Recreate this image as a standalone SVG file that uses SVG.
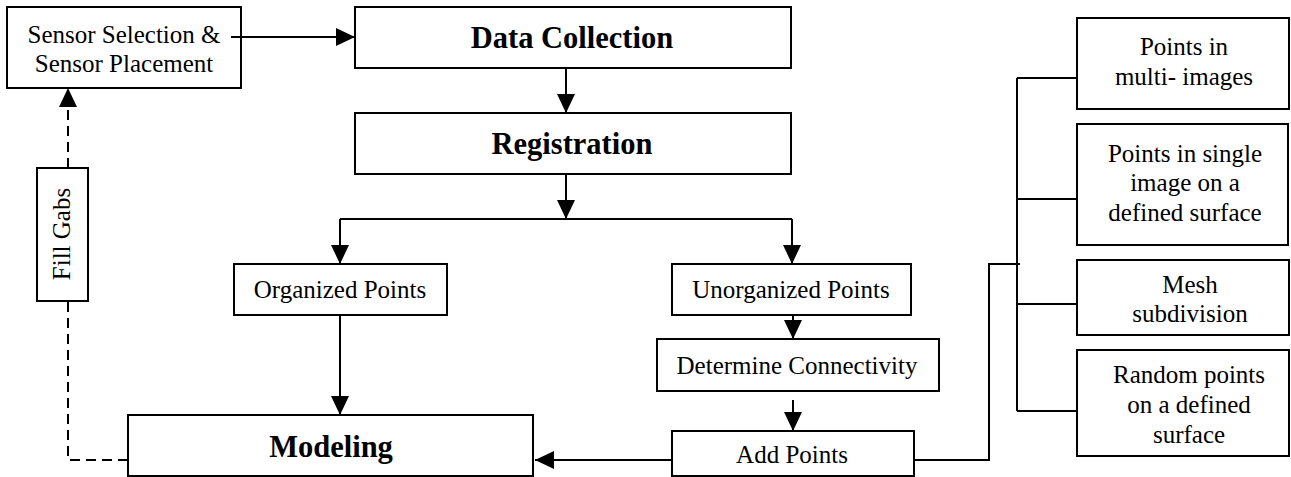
<svg xmlns="http://www.w3.org/2000/svg" width="1291" height="477" viewBox="0 0 1291 477">
<style>
.box{fill:#fff;stroke:#000;stroke-width:2}
.t{font-family:"Liberation Serif","Times New Roman",serif;font-size:25px;fill:#000;text-anchor:middle}
.b{font-family:"Liberation Serif","Times New Roman",serif;font-size:30.5px;font-weight:bold;fill:#000;text-anchor:middle}
.c{fill:none;stroke:#000;stroke-width:2}
.d{fill:none;stroke:#000;stroke-width:2;stroke-dasharray:10,6}
</style>
<defs>
<marker id="ah" markerUnits="userSpaceOnUse" markerWidth="20" markerHeight="20" refX="19" refY="9" orient="auto" viewBox="0 0 20 20">
<path d="M0,0 L19,9 L0,18 z" fill="#000"/>
</marker>
</defs>
<g id="sensor">
<rect class="box" x="7" y="7" width="234" height="81"/>
<text class="t" x="124" y="43">Sensor Selection &amp;</text>
<text class="t" x="124" y="72">Sensor Placement</text>
</g>
<g id="connectors">
<path class="c" d="M231,37 H355" marker-end="url(#ah)"/>
<path class="c" d="M566,68 V113" marker-end="url(#ah)"/>
<path class="c" d="M566,174 V219" marker-end="url(#ah)"/>
<path class="c" d="M340,219 H792"/>
<path class="c" d="M340,219 V264" marker-end="url(#ah)"/>
<path class="c" d="M792,219 V264" marker-end="url(#ah)"/>
<path class="c" d="M340,315 V415" marker-end="url(#ah)"/>
<path class="c" d="M793,315 V339" marker-end="url(#ah)"/>
<path class="c" d="M793,400 V431" marker-end="url(#ah)"/>
<path class="c" d="M672,460 H535" marker-end="url(#ah)"/>
<path class="d" d="M128,460 H68 V88" marker-end="url(#ah)"/>
<path class="c" d="M914,460 H989 V264 H1020"/>
<path class="c" d="M1017,78 V411"/>
<path class="c" d="M1017,78 H1077 M1017,199 H1077 M1017,304 H1077 M1017,411 H1077"/>
</g>
<g id="data-collection">
<rect class="box" x="355" y="7" width="436" height="61"/>
<text class="b" x="572" y="48">Data Collection</text>
</g>
<g id="registration">
<rect class="box" x="355" y="113" width="436" height="61"/>
<text class="b" x="572" y="154">Registration</text>
</g>
<g id="fill-gabs">
<rect class="box" x="37" y="168" width="51" height="133"/>
<text class="t" transform="translate(70,234) rotate(-90)" x="0" y="0">Fill Gabs</text>
</g>
<g id="organized-points">
<rect class="box" x="234" y="264" width="213" height="51"/>
<text class="t" x="340" y="298">Organized Points</text>
</g>
<g id="unorganized-points">
<rect class="box" x="672" y="264" width="239" height="51"/>
<text class="t" x="791" y="298">Unorganized Points</text>
</g>
<g id="determine-connectivity">
<rect class="box" x="657" y="339" width="282" height="52"/>
<text class="t" x="797" y="374">Determine Connectivity</text>
</g>
<g id="add-points">
<rect class="box" x="672" y="431" width="242" height="45"/>
<text class="t" x="792" y="463">Add Points</text>
</g>
<g id="modeling">
<rect class="box" x="128" y="415" width="405" height="61"/>
<text class="b" x="331" y="457">Modeling</text>
</g>
<g id="multi-images">
<rect class="box" x="1077" y="18" width="212" height="91"/>
<text class="t" x="1184" y="55">Points in</text>
<text class="t" x="1184" y="85">multi- images</text>
</g>
<g id="single-image">
<rect class="box" x="1077" y="124" width="211" height="121"/>
<text class="t" x="1185" y="162">Points in single</text>
<text class="t" x="1185" y="191">image on a</text>
<text class="t" x="1185" y="221">defined surface</text>
</g>
<g id="mesh-subdivision">
<rect class="box" x="1077" y="260" width="212" height="75"/>
<text class="t" x="1190" y="293">Mesh</text>
<text class="t" x="1190" y="322">subdivision</text>
</g>
<g id="random-points">
<rect class="box" x="1077" y="350" width="212" height="106"/>
<text class="t" x="1189" y="383">Random points</text>
<text class="t" x="1189" y="413">on a defined</text>
<text class="t" x="1189" y="443">surface</text>
</g>
</svg>
